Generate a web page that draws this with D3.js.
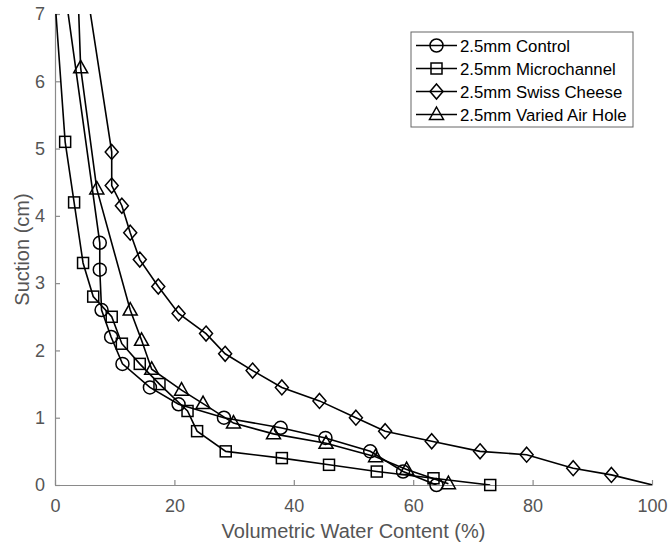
<!DOCTYPE html>
<html>
<head>
<meta charset="utf-8">
<script src="https://cdn.jsdelivr.net/npm/d3@7"></script>
<style>
  body { margin: 0; background: #fff; }
  svg { display: block; font-family: "Liberation Sans", Arial, sans-serif; }
</style>
</head>
<body>
<svg id="chart" width="668" height="546"></svg>
<script>
// ---- data ----
const seriesNames = ["2.5mm Control", "2.5mm Microchannel", "2.5mm Swiss Cheese", "2.5mm Varied Air Hole"];
const markerTypes = ["circle", "square", "diamond", "triangle"];

const controlX = [1.9, 7.5, 7.5, 7.8, 9.4, 11.3, 15.9, 20.7, 28.3, 37.8, 45.3, 52.8, 58.3, 63.9];
const controlY = [7.2, 3.6, 3.2, 2.6, 2.2, 1.8, 1.45, 1.2, 1.0, 0.85, 0.7, 0.5, 0.2, 0.0];

const microX = [0.0, 1.7, 3.2, 4.7, 6.4, 9.5, 11.2, 14.2, 17.5, 22.2, 23.8, 28.6, 38.0, 45.9, 53.9, 63.4, 72.9];
const microY = [7.2, 5.1, 4.2, 3.3, 2.8, 2.5, 2.1, 1.8, 1.5, 1.1, 0.8, 0.5, 0.4, 0.3, 0.2, 0.1, 0.0];

const swissX = [5.6, 9.5, 9.5, 11.2, 12.6, 14.2, 17.3, 20.7, 25.3, 28.5, 33.1, 38.0, 44.3, 50.4, 55.3, 63.1, 71.2, 79.0, 86.8, 93.2, 101.0];
const swissY = [7.2, 4.95, 4.45, 4.15, 3.75, 3.35, 2.95, 2.55, 2.25, 1.95, 1.7, 1.45, 1.25, 1.0, 0.8, 0.65, 0.5, 0.45, 0.25, 0.15, -0.02];

const variedX = [3.9, 4.3, 7.0, 12.6, 14.5, 16.2, 21.2, 24.8, 29.9, 36.6, 45.4, 53.7, 58.9, 65.9];
const variedY = [7.2, 6.2, 4.4, 2.6, 2.15, 1.72, 1.41, 1.21, 0.92, 0.76, 0.62, 0.42, 0.23, 0.02];

const xTicks = [0, 20, 40, 60, 80, 100];
const yTicks = [0, 1, 2, 3, 4, 5, 6, 7];
const xLabel = "Volumetric Water Content (%)";
const yLabel = "Suction (cm)";

const seriesX = [controlX, microX, swissX, variedX];
const seriesY = [controlY, microY, swissY, variedY];

// ---- layout ----
const svg = d3.select("#chart");
const L = 55, R = 652, T = 14, B = 485;
const x = d3.scaleLinear().domain([0, 100]).range([L, R]);
const y = d3.scaleLinear().domain([0, 7]).range([B, T]);
const axisColor = "#8a8a8a";
const textColor = "#555";

svg.append("defs").append("clipPath").attr("id", "plotclip")
  .append("rect").attr("x", L).attr("y", T).attr("width", R - L).attr("height", B - T);

// axes
const gx = svg.append("g").attr("transform", `translate(0,${B})`)
  .call(d3.axisBottom(x).tickValues(xTicks).tickFormat(d3.format("d"))
    .tickSizeInner(-5).tickSizeOuter(0).tickPadding(14));
const gy = svg.append("g").attr("transform", `translate(${L},0)`)
  .call(d3.axisLeft(y).tickValues(yTicks).tickFormat(d3.format("d"))
    .tickSizeInner(-5).tickSizeOuter(0).tickPadding(10));
[gx, gy].forEach(g => {
  g.select(".domain").attr("stroke", axisColor).attr("stroke-width", 1.2);
  g.selectAll(".tick line").attr("stroke", axisColor).attr("stroke-width", 1.2);
  g.selectAll(".tick text").attr("fill", textColor).attr("font-size", 18)
    .attr("font-family", "Liberation Sans, Arial, sans-serif");
});

svg.append("text").attr("x", (L + R) / 2).attr("y", 538).attr("text-anchor", "middle")
  .attr("fill", textColor).attr("font-size", 20).text(xLabel);
svg.append("text").attr("transform", `translate(29,${(T + B) / 2}) rotate(-90)`)
  .attr("text-anchor", "middle").attr("fill", textColor).attr("font-size", 20).text(yLabel);

// marker drawing
function drawMarker(g, type, cx, cy) {
  const s = { fill: "none", stroke: "#000", "stroke-width": 1.5 };
  let el;
  if (type === "circle") {
    el = g.append("circle").attr("cx", cx).attr("cy", cy).attr("r", 6.5);
  } else if (type === "square") {
    el = g.append("rect").attr("x", cx - 5.5).attr("y", cy - 5.5).attr("width", 11).attr("height", 11);
  } else if (type === "diamond") {
    el = g.append("path").attr("d", `M${cx},${cy - 7.5}L${cx + 6.5},${cy}L${cx},${cy + 7.5}L${cx - 6.5},${cy}Z`);
  } else {
    el = g.append("path").attr("d", `M${cx},${cy - 7.5}L${cx + 7},${cy + 5}L${cx - 7},${cy + 5}Z`);
  }
  Object.entries(s).forEach(([k, v]) => el.attr(k, v));
}

const line = d3.line().x(d => x(d[0])).y(d => y(d[1]));
const plot = svg.append("g");
seriesNames.forEach((name, i) => {
  const pts = seriesX[i].map((v, j) => [v, seriesY[i][j]]);
  plot.append("path").datum(pts).attr("d", line).attr("fill", "none")
    .attr("stroke", "#000").attr("stroke-width", 1.6).attr("clip-path", "url(#plotclip)");
  const mg = plot.append("g");
  pts.filter(p => p[0] >= 0 && p[0] <= 100 && p[1] >= 0 && p[1] <= 7)
    .forEach(p => drawMarker(mg, markerTypes[i], x(p[0]), y(p[1])));
});

// legend
const lg = svg.append("g");
lg.append("rect").attr("x", 411).attr("y", 32).attr("width", 222).attr("height", 95)
  .attr("fill", "#fff").attr("stroke", "#666").attr("stroke-width", 1);
seriesNames.forEach((name, i) => {
  const ly = 45.5 + i * 23;
  lg.append("line").attr("x1", 416).attr("x2", 457).attr("y1", ly).attr("y2", ly)
    .attr("stroke", "#000").attr("stroke-width", 1.6);
  drawMarker(lg, markerTypes[i], 436.5, ly);
  lg.append("text").attr("x", 460).attr("y", ly + 6).attr("font-size", 16.8)
    .attr("fill", "#000").text(name);
});
</script>
</body>
</html>
